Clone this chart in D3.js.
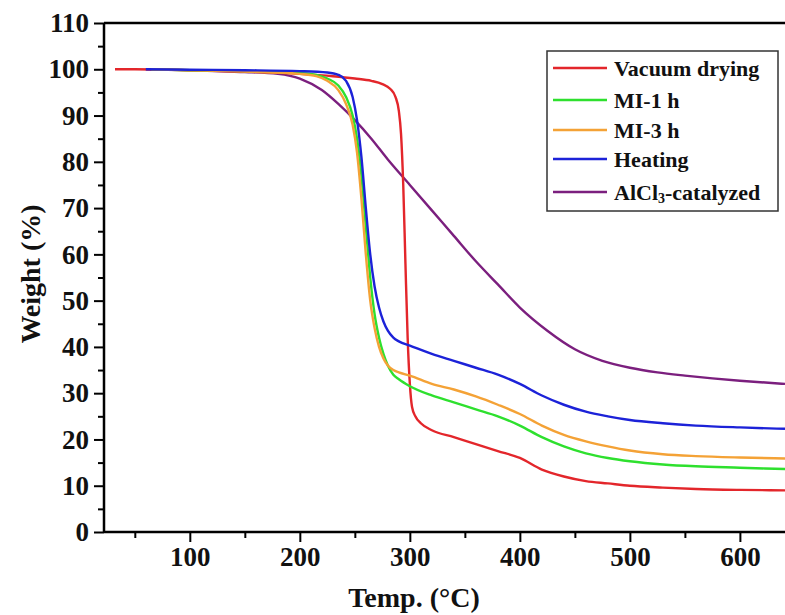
<!DOCTYPE html>
<html><head><meta charset="utf-8">
<script src="https://cdn.jsdelivr.net/npm/d3@7"></script>
<style>body{margin:0;background:#fff}svg{display:block}</style>
</head><body>
<svg id="c" width="785" height="615"></svg>
<script>
// ---- data ----
const seriesNames = ["Vacuum drying", "MI-1 h", "MI-3 h", "Heating", "AlCl3-catalyzed"];
const seriesColors = ["#e3262b", "#2ee02e", "#f4a236", "#1c22d8", "#7b1f7e"];

const tVacuum = [32, 50, 100, 150, 200, 230, 250, 265, 275, 282, 287, 290, 292, 294, 296, 298, 300, 302, 305, 310, 320, 340, 360, 380, 400, 420, 440, 460, 480, 500, 530, 560, 600, 641];
const wVacuum = [100, 100, 99.8, 99.5, 99, 98.5, 98, 97.5, 96.8, 95.8, 94, 91, 86, 75, 58, 42, 32, 27, 25, 23.5, 22, 20.5, 19, 17.5, 16, 13.5, 12, 11, 10.5, 10, 9.6, 9.3, 9.1, 9];

const tMI1 = [65, 100, 150, 200, 215, 225, 235, 242, 248, 252, 256, 260, 264, 268, 272, 276, 280, 285, 290, 300, 320, 340, 360, 380, 400, 420, 440, 460, 480, 500, 530, 560, 600, 641];
const wMI1 = [100, 99.8, 99.6, 99.2, 98.8, 98, 96.5, 94, 90, 85, 77, 66, 55, 47, 42, 38.5, 36, 34, 33, 31.5, 29.5, 28, 26.5, 25, 23, 20.5, 18.5, 17, 16, 15.3, 14.6, 14.2, 13.9, 13.6];

const tMI3 = [65, 100, 150, 200, 215, 225, 235, 242, 248, 252, 256, 260, 264, 268, 272, 276, 280, 285, 290, 300, 320, 340, 360, 380, 400, 420, 440, 460, 480, 500, 530, 560, 600, 641];
const wMI3 = [100, 99.8, 99.5, 99, 98.5, 97.5, 95.5, 92.5, 88, 82, 72, 60, 50, 44, 40, 37.5, 36, 35, 34.5, 33.8, 32, 30.8, 29.3, 27.5, 25.5, 23, 21, 19.6, 18.5, 17.6, 16.8, 16.4, 16.1, 15.9];

const tHeating = [60, 100, 150, 200, 225, 235, 242, 248, 252, 256, 260, 264, 268, 272, 276, 280, 285, 290, 300, 320, 340, 360, 380, 400, 420, 440, 460, 480, 500, 530, 560, 600, 641];
const wHeating = [100, 99.9, 99.8, 99.6, 99.3, 98.8, 97.5, 94, 89, 81, 70, 60, 53, 48.5, 45.5, 43.5, 42, 41.2, 40.3, 38.5, 37, 35.5, 34, 32, 29.5, 27.5, 26, 25, 24.2, 23.5, 23, 22.6, 22.3];

const tAlCl3 = [60, 100, 150, 180, 200, 220, 235, 250, 265, 280, 300, 320, 340, 360, 380, 400, 425, 450, 475, 500, 525, 550, 575, 600, 641];
const wAlCl3 = [100, 99.8, 99.4, 99, 98, 95.5, 92.5, 89, 85, 80.5, 75, 69.5, 64, 58.5, 53.5, 48.5, 43.5, 39.5, 37, 35.5, 34.5, 33.8, 33.2, 32.7, 32];

const xTicks = [100, 200, 300, 400, 500, 600];
const yTicks = [0, 10, 20, 30, 40, 50, 60, 70, 80, 90, 100, 110];

// ---- layout ----
const svg = d3.select("#c");
const L = 104, R = 785, T = 23, B = 532;
const x = d3.scaleLinear().domain([22, 641]).range([L, R]);
const y = d3.scaleLinear().domain([0, 110]).range([B, T]);
const font = "'Liberation Serif','Times New Roman',serif";

const series = [
  [tVacuum, wVacuum], [tMI1, wMI1], [tMI3, wMI3], [tHeating, wHeating], [tAlCl3, wAlCl3]
];

const line = d3.line().x(d => x(d[0])).y(d => y(d[1])).curve(d3.curveMonotoneX);

svg.append("defs").append("clipPath").attr("id", "clip")
  .append("rect").attr("x", L).attr("y", T).attr("width", R - L).attr("height", B - T);

const g = svg.append("g").attr("clip-path", "url(#clip)");
[4, 0, 1, 2, 3].forEach(i => {
  const [ts, ws] = series[i];
  g.append("path").datum(ts.map((t, k) => [t, ws[k]]))
    .attr("fill", "none").attr("stroke", seriesColors[i]).attr("stroke-width", 2.4)
    .attr("stroke-linejoin", "round").attr("d", line);
});

// axes
const xMinor = d3.range(50, 641, 100);
const yMinor = d3.range(5, 110, 10);

const xAxis = svg.append("g").attr("transform", `translate(0,${B})`)
  .call(d3.axisBottom(x).tickValues(xTicks).tickSize(10).tickPadding(5).tickFormat(d3.format("d")));
const xAxisMinor = svg.append("g").attr("transform", `translate(0,${B})`)
  .call(d3.axisBottom(x).tickValues(xMinor).tickSize(6).tickFormat(""));
const yAxis = svg.append("g").attr("transform", `translate(${L},0)`)
  .call(d3.axisLeft(y).tickValues(yTicks).tickSize(10).tickPadding(5).tickFormat(d3.format("d")));
const yAxisMinor = svg.append("g").attr("transform", `translate(${L},0)`)
  .call(d3.axisLeft(y).tickValues(yMinor).tickSize(6).tickFormat(""));

[xAxis, xAxisMinor, yAxis, yAxisMinor].forEach(a => {
  a.select(".domain").remove();
  a.selectAll(".tick line").attr("stroke", "#000").attr("stroke-width", 2);
  a.selectAll("text").attr("font-family", font).attr("font-weight", "bold")
    .attr("font-size", 27).attr("fill", "#111");
});

// frame lines
svg.append("line").attr("x1", L).attr("x2", R).attr("y1", B).attr("y2", B).attr("stroke", "#000").attr("stroke-width", 2.5);
svg.append("line").attr("x1", L).attr("x2", L).attr("y1", T).attr("y2", B).attr("stroke", "#000").attr("stroke-width", 2.5);
svg.append("line").attr("x1", L).attr("x2", R).attr("y1", T).attr("y2", T).attr("stroke", "#000").attr("stroke-width", 2.5);

// titles
svg.append("text").attr("x", 414).attr("y", 607).attr("text-anchor", "middle")
  .attr("font-family", font).attr("font-weight", "bold").attr("font-size", 28).attr("fill", "#111")
  .text("Temp. (°C)");
svg.append("text").attr("transform", `translate(40,274) rotate(-90)`).attr("text-anchor", "middle")
  .attr("font-family", font).attr("font-weight", "bold").attr("font-size", 28).attr("fill", "#111")
  .text("Weight (%)");

// legend
const lg = svg.append("g");
lg.append("rect").attr("x", 547).attr("y", 51).attr("width", 231).attr("height", 160)
  .attr("fill", "#fff").attr("stroke", "#333").attr("stroke-width", 1.5);
const rowY = [68, 100, 130, 159, 192];
seriesNames.forEach((name, i) => {
  lg.append("line").attr("x1", 553).attr("x2", 607).attr("y1", rowY[i]).attr("y2", rowY[i])
    .attr("stroke", seriesColors[i]).attr("stroke-width", 2.4);
  const t = lg.append("text").attr("x", 614).attr("y", rowY[i] + 8)
    .attr("font-family", font).attr("font-weight", "bold").attr("font-size", 22).attr("fill", "#111");
  if (name.startsWith("AlCl3")) {
    t.append("tspan").text("AlCl");
    t.append("tspan").attr("font-size", 14).attr("dy", 3).text("3");
    t.append("tspan").attr("dy", -3).text(name.slice(5));
  } else {
    t.text(name);
  }
});
</script>
</body></html>
